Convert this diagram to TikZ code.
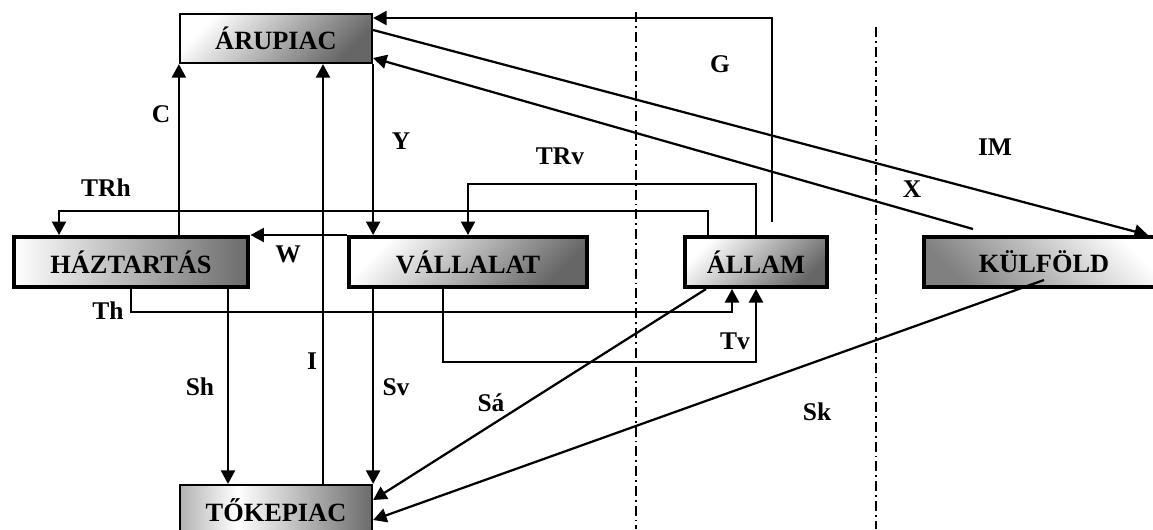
\documentclass[tikz,border=0pt]{standalone}
\usepackage{fontspec}
\setmainfont{Liberation Serif}
\usetikzlibrary{arrows.meta}
\pgfdeclarehorizontalshading{tokshade}{100bp}{color(0bp)=(black!30); color(25bp)=(black!30); color(40bp)=(white); color(75bp)=(black!58); color(100bp)=(black!58)}
\begin{document}
\begin{tikzpicture}[x=0.02cm,y=-0.02cm,
  box/.style={draw, line width=0.08cm, minimum height=1cm, inner sep=0pt,
    font=\fontsize{15}{17}\selectfont\bfseries},
  thinbox/.style={box, line width=0.045cm},
  diag/.style={left color=white, right color=black!60, shading angle=45},
  lbl/.style={inner sep=0pt, font=\fontsize{14.5}{16}\selectfont\bfseries},
  arr/.style={line width=0.045cm, -{Triangle[length=0.27cm,width=0.28cm]}},
  ddline/.style={line width=0.035cm, dash pattern=on 0.2cm off 0.08cm on 0.035cm off 0.08cm}]
\useasboundingbox (0,0) rectangle (1153,529);
% dividers
\draw[ddline] (636,12) -- (636,529);
\draw[ddline] (876,27) -- (876,529);
% boxes
\node[thinbox, diag, minimum width=3.84cm, minimum height=0.98cm] (aru) at (276,38.5) {ÁRUPIAC};
\node[box, left color=white, right color=black!58, minimum width=4.7cm] (haz) at (131,262) {HÁZTARTÁS};
\node[box, diag, minimum width=4.75cm] (val) at (468,262) {VÁLLALAT};
\node[box, diag, minimum width=2.84cm] (all) at (756,262) {ÁLLAM};
\node[box, top color=white, bottom color=black!50, shading angle=-45, minimum width=4.8cm] (kul) at (1044,262) {KÜLFÖLD};
\node[thinbox, shading=tokshade, minimum width=3.84cm] (tok) at (276,510) {TŐKEPIAC};
% helper coordinates
\coordinate (cI) at (323,300);
\coordinate (cSh) at (228,400);
\coordinate (g1) at (772,222);
\coordinate (g2) at (772,18);
\coordinate (h1) at (708,211);
\coordinate (h2) at (59,211);
\coordinate (xs) at (973,229);
% connectors
\draw[arr] (haz.north -| aru.south west) -- (aru.south west);
\draw[arr] (tok.north -| cI) -- (aru.south -| cI);
\draw[arr] (aru.south east) -- (val.north -| aru.south east);
\draw[arr] (g1) -- (g2) -- (aru.east |- g2);
\draw[arr] (all.north) -- ++(0,-51) -| (val.north);
\draw[arr] (all.north -| h1) -- (h1) -- (h2) -- (haz.north -| h2);
\draw[arr] (val.north west) -- (haz.north east);
\draw[arr] (haz.south) -- ++(0,23) -| ([xshift=-0.48cm]all.south);
\draw[arr] ([xshift=-0.5cm]val.south) -- ++(0,73) -| (all.south);
\draw[arr] (haz.south -| cSh) -- (tok.north -| cSh);
\draw[arr] (val.south -| tok.north east) -- (tok.north east);
\draw[arr] ([xshift=-1cm]all.south) -- ([yshift=0.2cm]tok.east);
\draw[arr] ([yshift=0.18cm]kul.south) -- ([yshift=-0.2cm]tok.east);
\draw[arr] ([yshift=0.17cm]aru.east) -- ([xshift=2.08cm]kul.north);
\draw[arr] (xs) -- ([yshift=-0.39cm]aru.east);
% labels
\node[lbl] (lC) at (161,114) {C};
\node[lbl] (lY) at (401,141) {Y};
\node[lbl] (lTRh) at (106,188) {TRh};
\node[lbl] (lW) at (288,254) {W};
\node[lbl] (lG) at (720,64) {G};
\node[lbl] (lTRv) at (560,156) {TRv};
\node[lbl] (lIM) at (995,147) {IM};
\node[lbl] (lX) at (912,189) {X};
\node[lbl] (lTh) at (108,311) {Th};
\node[lbl] (lSh) at (200,387) {Sh};
\node[lbl] (lI) at (312,361) {I};
\node[lbl] (lSv) at (396,387) {Sv};
\node[lbl] (lSa) at (491,403) {Sá};
\node[lbl] (lTv) at (735,341) {Tv};
\node[lbl] (lSk) at (817,412) {Sk};
\end{tikzpicture}
\end{document}
